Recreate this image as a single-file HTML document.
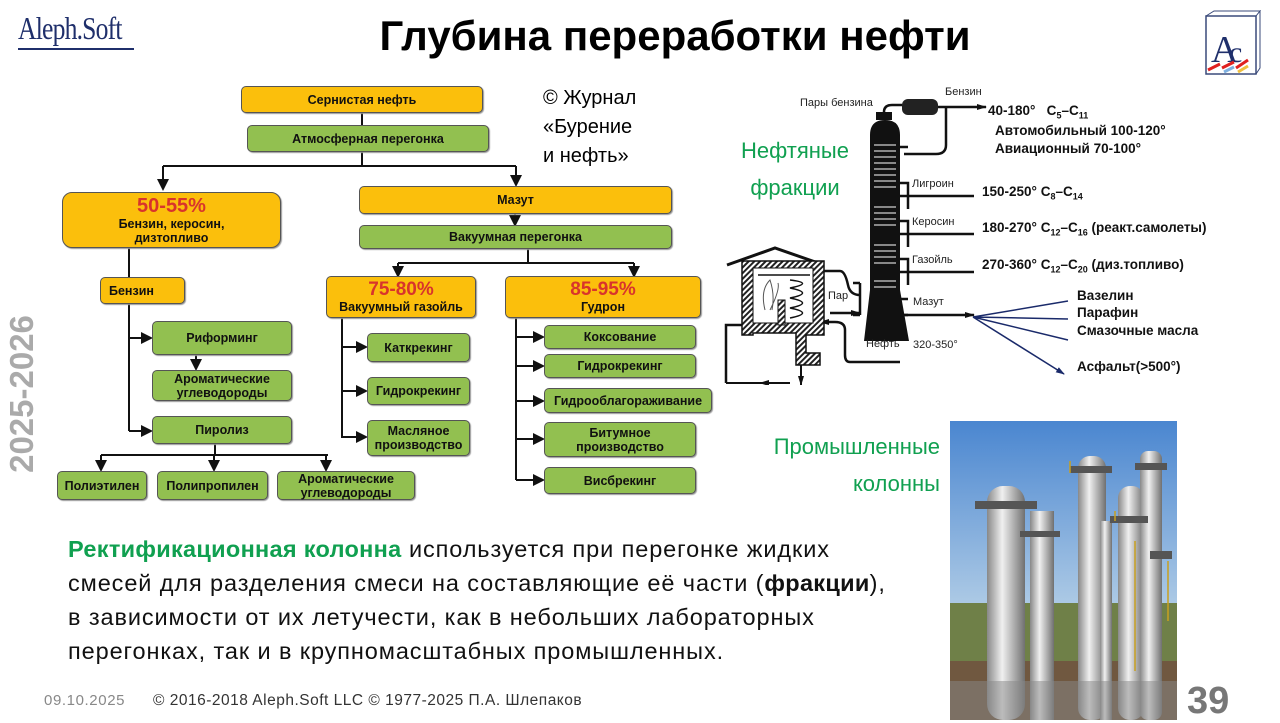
<!DOCTYPE html>
<html><head><meta charset="utf-8"><style>
*{margin:0;padding:0;box-sizing:border-box}
body{width:1280px;height:720px;position:relative;background:#fff;overflow:hidden;font-family:"Liberation Sans","DejaVu Sans",sans-serif}
.a{position:absolute}
.b{position:absolute;border:1.5px solid #555;border-radius:5px;display:flex;flex-direction:column;align-items:center;justify-content:center;text-align:center;font-weight:bold;font-size:12.5px;line-height:14px;color:#111;box-shadow:1px 1px 1px #999}
.y{background:#fbbf0c}.g{background:#92c050}
.r{color:#d8342c;font-size:19px;line-height:20px}
.t{position:absolute;font-weight:bold;font-size:13.5px;color:#111;white-space:nowrap}
.s{position:absolute;font-size:11px;color:#222;white-space:nowrap}
</style></head><body>
<div class="a" style="left:18px;top:10px;font-family:'Liberation Serif',serif;font-size:32px;color:#1f2f6b;letter-spacing:-1px;transform:scaleX(0.8);transform-origin:left;white-space:nowrap">Aleph.Soft</div>
<div class="a" style="left:18px;top:48px;width:116px;height:2px;background:#1f2f6b"></div>
<div class="a" style="left:0;width:1350px;top:12px;text-align:center;font-weight:bold;font-size:42px;color:#000">Глубина переработки нефти</div>
<svg class="a" style="left:1200px;top:10px" width="62" height="66"><rect x="6" y="6" width="50" height="58" fill="#fff" stroke="#3a4a7a" stroke-width="1.5"/><path d="M6 6 L14 1 L60 1 L56 6 M56 6 L60 1 L60 58 L56 64" fill="none" stroke="#3a4a7a"/><text x="11" y="52" font-family="Liberation Serif" font-size="38" fill="#1f2f6b">A</text><text x="29" y="52" font-family="Liberation Serif" font-size="30" fill="#1f2f6b">c</text><path d="M8 60 L20 54 M22 58 L34 52 M36 58 L48 50" stroke="#e02020" stroke-width="3"/><path d="M24 62 L34 57" stroke="#7fb0e0" stroke-width="3"/><path d="M38 62 L48 56" stroke="#f0c040" stroke-width="3"/></svg>

<!-- connectors -->
<svg class="a" style="left:0;top:0" width="720" height="520">
<defs><marker id="m" markerWidth="6" markerHeight="6" refX="5" refY="3" orient="auto"><path d="M0,0 L6,3 L0,6z" fill="#111"/></marker></defs>
<g stroke="#111" stroke-width="2" fill="none">
<path d="M362 113 V125 M362 152 V166 M163 166 H516"/>
<path d="M163 166 V189" marker-end="url(#m)"/><path d="M516 166 V185" marker-end="url(#m)"/>
<path d="M515 214 V225" marker-end="url(#m)"/>
<path d="M528 249 V263 M398 263 H634"/><path d="M398 263 V276" marker-end="url(#m)"/><path d="M634 263 V276" marker-end="url(#m)"/>
<path d="M129 248 V277 M129 304 V431"/>
<path d="M129 338 H151" marker-end="url(#m)"/><path d="M129 431 H151" marker-end="url(#m)"/>
<path d="M196 355 V369" marker-end="url(#m)"/>
<path d="M215 444 V455 M101 455 H328"/><path d="M101 455 V470" marker-end="url(#m)"/><path d="M214 455 V470" marker-end="url(#m)"/><path d="M326 455 V470" marker-end="url(#m)"/>
<path d="M342 318 V438"/><path d="M342 347 H366" marker-end="url(#m)"/><path d="M342 391 H366" marker-end="url(#m)"/><path d="M342 437 H366" marker-end="url(#m)"/>
<path d="M516 318 V480"/><path d="M516 337 H543" marker-end="url(#m)"/><path d="M516 366 H543" marker-end="url(#m)"/><path d="M516 401 H543" marker-end="url(#m)"/><path d="M516 439 H543" marker-end="url(#m)"/><path d="M516 480 H543" marker-end="url(#m)"/>
</g></svg>

<div class="b y" style="left:241px;top:86px;width:242px;height:27px">Сернистая нефть</div>
<div class="b g" style="left:247px;top:125px;width:242px;height:27px">Атмосферная перегонка</div>
<div class="b y" style="left:62px;top:192px;width:219px;height:56px;border-radius:10px"><span class="r" style="font-size:20px;line-height:22px">50-55%</span><span>Бензин, керосин,<br>дизтопливо</span></div>
<div class="b y" style="left:359px;top:186px;width:313px;height:28px">Мазут</div>
<div class="b g" style="left:359px;top:225px;width:313px;height:24px">Вакуумная перегонка</div>
<div class="b y" style="left:326px;top:276px;width:150px;height:42px"><span class="r">75-80%</span><span>Вакуумный газойль</span></div>
<div class="b y" style="left:505px;top:276px;width:196px;height:42px"><span class="r">85-95%</span><span>Гудрон</span></div>
<div class="b y" style="left:100px;top:277px;width:85px;height:27px;align-items:flex-start;padding-left:8px">Бензин</div>
<div class="b g" style="left:152px;top:321px;width:140px;height:34px">Риформинг</div>
<div class="b g" style="left:152px;top:370px;width:140px;height:31px">Ароматические<br>углеводороды</div>
<div class="b g" style="left:152px;top:416px;width:140px;height:28px">Пиролиз</div>
<div class="b g" style="left:57px;top:471px;width:90px;height:29px">Полиэтилен</div>
<div class="b g" style="left:157px;top:471px;width:111px;height:29px">Полипропилен</div>
<div class="b g" style="left:277px;top:471px;width:138px;height:29px">Ароматические<br>углеводороды</div>
<div class="b g" style="left:367px;top:333px;width:103px;height:29px">Каткрекинг</div>
<div class="b g" style="left:367px;top:377px;width:103px;height:28px">Гидрокрекинг</div>
<div class="b g" style="left:367px;top:420px;width:103px;height:36px">Масляное<br>производство</div>
<div class="b g" style="left:544px;top:325px;width:152px;height:24px">Коксование</div>
<div class="b g" style="left:544px;top:354px;width:152px;height:24px">Гидрокрекинг</div>
<div class="b g" style="left:544px;top:388px;width:168px;height:25px">Гидрооблагораживание</div>
<div class="b g" style="left:544px;top:422px;width:152px;height:35px">Битумное<br>производство</div>
<div class="b g" style="left:544px;top:467px;width:152px;height:27px">Висбрекинг</div>

<div class="a" style="left:543px;top:84px;font-size:20px;line-height:29px;color:#000">© Журнал<br>«Бурение<br>и нефть»</div>

<!-- distillation drawing -->
<svg class="a" style="left:720px;top:85px" width="540" height="300">
<defs><pattern id="h" width="4" height="4" patternUnits="userSpaceOnUse" patternTransform="rotate(45)"><rect width="4" height="4" fill="#fff"/><rect width="2" height="4" fill="#222"/></pattern>
<marker id="k" markerUnits="userSpaceOnUse" markerWidth="10" markerHeight="6" refX="9" refY="3" orient="auto"><path d="M0,0 L10,3 L0,6z" fill="#111"/></marker>
<marker id="kb" markerUnits="userSpaceOnUse" markerWidth="9" markerHeight="6" refX="8" refY="3" orient="auto"><path d="M0,0 L9,3 L0,6z" fill="#1a2a6a"/></marker></defs>
<path d="M150 50 Q150 35 165 35 Q180 35 180 50 L180 205 L189 256 L144 256 L150 205 Z" fill="#111"/>
<rect x="156" y="27" width="16" height="8" fill="#111"/>
<g stroke="#fff" stroke-width="1"><path d="M154 60 H176 M154 66 H176 M154 72 H176 M154 78 H176 M154 84 H176 M154 90 H176 M154 96 H176 M154 102 H176 M154 122 H176 M154 128 H176 M154 134 H176 M154 140 H176 M154 160 H176 M154 166 H176 M154 172 H176 M154 178 H176 M154 196 H176 M154 202 H176"/></g>
<rect x="182" y="14" width="36" height="16" rx="6" fill="#222"/>
<g fill="none" stroke="#111" stroke-width="2.5">
<path d="M164 27 Q164 20 172 20 H182"/>
<path d="M218 22 H266" marker-end="url(#k)"/>
<path d="M226 22 V60 Q226 69 216 69 H184"/>
<path d="M180 111 H254 M180 149 H254 M180 187 H254 M180 230 H254" marker-end="url(#k)"/>
<path d="M180 62 H188 M180 98 H188 V124 M180 136 H188 V162 M180 174 H188 V200 M180 214 H188 M180 230 H188"/>
<path d="M140 198 V230 M133 198 H140 M133 230 H140"/>
<path d="M98 186 H120 Q125 186 128 200 Q130 210 140 210"/>
<path d="M110 228 H140" marker-end="url(#k)"/>
<path d="M180 277 H130 Q125 277 125 270 V245 Q125 237 115 237 H100" marker-end="url(#k)"/>
<path d="M6 298 V240 H30"/>
<path d="M6 298 H45" stroke-width="2"/>
<path d="M70 298 H40" marker-end="url(#k)" stroke-width="2"/>
<path d="M81 260 V300" marker-end="url(#k)" stroke-width="2"/>
<path d="M7 180 L55 163 L104 180" stroke-width="3"/>
</g>
<path d="M22 176 H104 V250 H86 V268 H100 V280 H76 V248 H33 V250 H22 Z" fill="url(#h)" stroke="#111" stroke-width="1.5"/>
<rect x="33" y="183" width="60" height="55" fill="#fff" stroke="#111"/>
<rect x="58" y="215" width="7" height="25" fill="url(#h)" stroke="#111"/>
<path d="M38 190 H90 M70 195 Q95 198 70 203 Q95 208 70 213 Q95 218 70 223 Q95 228 70 233" fill="none" stroke="#111" stroke-width="1.5"/>
<path d="M45 225 Q40 205 50 195 Q55 210 52 225 M50 225 Q60 205 58 198" fill="none" stroke="#555" stroke-width="1"/>
<g stroke="#1a2a6a" stroke-width="1.5" fill="none"><path d="M253 232 L348 216 M253 232 L348 234 M253 232 L348 255 M253 232 L344 289" marker-end="url(#kb)"/></g>
</svg>
<div class="s" style="left:800px;top:97px">Пары бензина</div>
<div class="s" style="left:945px;top:86px">Бензин</div>
<div class="t" style="left:988px;top:103px">40-180°&nbsp;&nbsp; C<sub style="font-size:9px">5</sub>–C<sub style="font-size:9px">11</sub></div>
<div class="t" style="left:995px;top:123px">Автомобильный 100-120°</div>
<div class="t" style="left:995px;top:141px">Авиационный 70-100°</div>
<div class="s" style="left:912px;top:178px">Лигроин</div>
<div class="t" style="left:982px;top:184px">150-250° C<sub style="font-size:9px">8</sub>–C<sub style="font-size:9px">14</sub></div>
<div class="s" style="left:912px;top:216px">Керосин</div>
<div class="t" style="left:982px;top:220px">180-270° C<sub style="font-size:9px">12</sub>–C<sub style="font-size:9px">16</sub> (реакт.самолеты)</div>
<div class="s" style="left:912px;top:254px">Газойль</div>
<div class="t" style="left:982px;top:257px">270-360° C<sub style="font-size:9px">12</sub>–C<sub style="font-size:9px">20</sub> (диз.топливо)</div>
<div class="s" style="left:913px;top:296px">Мазут</div>
<div class="s" style="left:828px;top:290px">Пар</div>
<div class="s" style="left:866px;top:338px">Нефть</div>
<div class="s" style="left:913px;top:339px">320-350°</div>
<div class="t" style="left:1077px;top:288px">Вазелин</div>
<div class="t" style="left:1077px;top:305px">Парафин</div>
<div class="t" style="left:1077px;top:323px">Смазочные масла</div>
<div class="t" style="left:1077px;top:359px">Асфальт(&gt;500°)</div>

<div class="a" style="left:722px;top:132px;width:146px;text-align:center;color:#10a050;font-size:22px;line-height:37px">Нефтяные<br>фракции</div>
<div class="a" style="left:700px;top:428px;width:240px;text-align:right;color:#10a050;font-size:22px;line-height:37px">Промышленные<br>колонны</div>

<!-- photo -->
<svg class="a" style="left:950px;top:421px" width="227" height="299">
<defs><linearGradient id="sk" x1="0" y1="0" x2="0" y2="1"><stop offset="0" stop-color="#4a86d0"/><stop offset="1" stop-color="#b0cce6"/></linearGradient>
<linearGradient id="mt" x1="0" x2="1"><stop offset="0" stop-color="#888"/><stop offset=".4" stop-color="#f0f0f0"/><stop offset="1" stop-color="#707070"/></linearGradient></defs>
<rect width="227" height="190" fill="url(#sk)"/>
<rect y="182" width="227" height="117" fill="#6f8048"/>
<rect y="240" width="227" height="59" fill="#705840"/>
<rect x="37" y="65" width="38" height="234" fill="url(#mt)" rx="16"/>
<rect x="80" y="90" width="24" height="209" fill="url(#mt)"/>
<rect x="128" y="35" width="28" height="264" fill="url(#mt)" rx="12"/>
<rect x="150" y="100" width="12" height="199" fill="url(#mt)"/>
<rect x="168" y="65" width="26" height="234" fill="url(#mt)" rx="12"/>
<rect x="190" y="30" width="22" height="269" fill="url(#mt)" rx="8"/>
<g fill="#555"><rect x="25" y="80" width="62" height="8"/><rect x="70" y="110" width="40" height="6"/><rect x="120" y="45" width="42" height="7"/><rect x="160" y="95" width="38" height="7"/><rect x="185" y="42" width="32" height="7"/><rect x="200" y="130" width="22" height="8"/></g>
<g stroke="#c8a020" stroke-width="1.5"><path d="M120 40 V52 M165 90 V100 M218 140 V200 M185 120 V250"/></g>
<rect y="260" width="227" height="39" fill="#888" opacity=".5"/>
</svg>

<div class="a" style="left:68px;top:532px;font-size:23.5px;line-height:34px;color:#111;white-space:nowrap;letter-spacing:0.9px"><b style="color:#10a050;letter-spacing:0.3px">Ректификационная колонна</b> используется при перегонке жидких<br>смесей для разделения смеси на составляющие её части (<b style="letter-spacing:0.3px">фракции</b>),<br>в зависимости от их летучести, как в небольших лабораторных<br>перегонках, так и в крупномасштабных промышленных.</div>

<div class="a" style="left:44px;top:692px;font-size:15px;color:#888;letter-spacing:0.6px">09.10.2025</div>
<div class="a" style="left:153px;top:692px;font-size:15.5px;color:#333;letter-spacing:0.5px">© 2016-2018 Aleph.Soft LLC © 1977-2025 П.А. Шлепаков</div>
<div class="a" style="left:1187px;top:680px;font-size:38px;font-weight:bold;color:#777">39</div>
<div class="a" style="left:22px;top:394px;transform:translate(-50%,-50%) rotate(-90deg);font-size:33px;font-weight:bold;color:#aaa;white-space:nowrap">2025-2026</div>
</body></html>
